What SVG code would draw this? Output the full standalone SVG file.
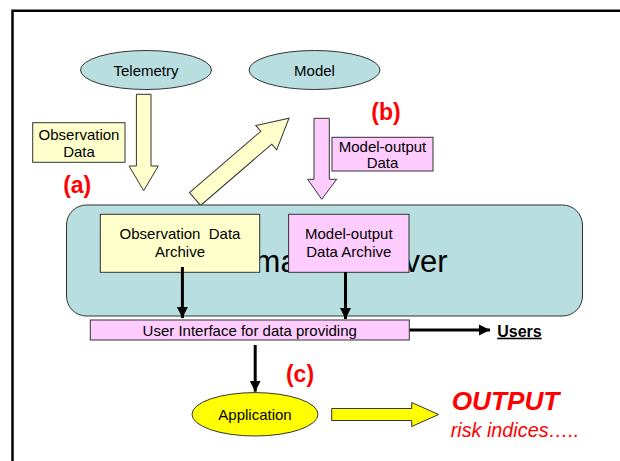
<svg xmlns="http://www.w3.org/2000/svg" width="620" height="461" viewBox="0 0 620 461">
  <defs>
    <style>
      text { font-family: "Liberation Sans", Arial, sans-serif; fill: #000; }
      .t15 { font-size: 15px; text-anchor: middle; }
      .lbl { font-size: 23px; font-weight: bold; fill: #FF0000; text-anchor: middle; }
      .teal { fill: #B8DEE0; stroke: #333; stroke-width: 1; }
      .ylw { fill: #FFFFCC; stroke: #333; stroke-width: 1; }
      .pnk { fill: #FFCCFF; stroke: #333; stroke-width: 1; }
      .bold { fill: #FFFF00; stroke: #333; stroke-width: 1; }
      .link { stroke: #000; stroke-width: 3; fill: none; }
    </style>
    <marker id="head" markerUnits="userSpaceOnUse" markerWidth="12" markerHeight="12" refX="11" refY="6" orient="auto">
      <path d="M0,0.5 L11,6 L0,11.5 Z" fill="#000"/>
    </marker>
  </defs>

  <rect width="620" height="461" fill="#fff"/>
  <!-- slide frame -->
  <path d="M12.5,461 V10.8 H620" fill="none" stroke="#000" stroke-width="2.5"/>

  <!-- sources -->
  <g id="telemetry">
    <ellipse class="teal" cx="146" cy="70" rx="65.5" ry="19.5"/>
    <text class="t15" x="146" y="75.5">Telemetry</text>
  </g>
  <g id="model">
    <ellipse class="teal" cx="314.5" cy="70" rx="65.5" ry="19.5"/>
    <text class="t15" x="314.5" y="75.5">Model</text>
  </g>

  <!-- block arrows carrying data -->
  <g id="connectors">
    <polygon class="ylw" points="136.4,94.3 151,94.3 151,166 158.3,166 143.7,190.7 129,166 136.4,166"/>
    <polygon class="ylw" transform="translate(195,199) rotate(-40.7)" points="0,-8.5 94,-8.5 94,-16 124,0 94,16 94,8.5 0,8.5"/>
    <polygon class="pnk" points="314,118.3 329.3,118.3 329.3,179.3 336.7,179.3 321.7,199.3 307.7,179.3 314,179.3"/>
  </g>

  <g id="observation-data">
    <rect class="ylw" x="32.7" y="122.7" width="92.3" height="39.6"/>
    <text class="t15" x="79" y="140">Observation</text>
    <text class="t15" x="79" y="156.7">Data</text>
  </g>
  <g id="model-output-data">
    <rect class="pnk" x="332" y="137.3" width="101" height="33.7"/>
    <text class="t15" x="382.5" y="151.5">Model-output</text>
    <text class="t15" x="382.5" y="168">Data</text>
  </g>
  <g id="label-a"><text class="lbl" x="77.2" y="192.8">(a)</text></g>
  <g id="label-b"><text class="lbl" x="386" y="120">(b)</text></g>

  <!-- server with its two archives -->
  <g id="server">
    <rect class="teal" x="66.5" y="205" width="516" height="111" rx="20" ry="20"/>
    <text x="192.6" y="272" style="font-size:31px">Information Server</text>
  </g>
  <g id="observation-archive">
    <rect class="ylw" x="100.3" y="214.3" width="159.4" height="58"/>
    <text class="t15" x="180" y="239.3" xml:space="preserve">Observation  Data</text>
    <text class="t15" x="180" y="256.7">Archive</text>
  </g>
  <g id="model-archive">
    <rect class="pnk" x="288.6" y="214.3" width="120.4" height="58"/>
    <text class="t15" x="348.8" y="239.3">Model-output</text>
    <text class="t15" x="348.8" y="257">Data Archive</text>
  </g>

  <g id="links">
    <line class="link" x1="182.4" y1="267" x2="182.4" y2="318" marker-end="url(#head)"/>
    <line class="link" x1="345.5" y1="272" x2="345.5" y2="319" marker-end="url(#head)"/>
    <line class="link" x1="409.3" y1="330" x2="490" y2="330" marker-end="url(#head)"/>
    <line class="link" x1="255.2" y1="345" x2="255.2" y2="391.7" marker-end="url(#head)"/>
    <polygon class="bold" points="331.7,408.5 411.7,408.5 411.7,402.5 438.6,414.5 411.7,426.5 411.7,420.5 331.7,420.5"/>
  </g>

  <g id="user-interface">
    <rect class="pnk" x="90.3" y="320" width="319" height="20"/>
    <text class="t15" x="249.7" y="336">User Interface for data providing</text>
  </g>
  <g id="users">
    <text x="497.2" y="336.7" style="font-size:16px;font-weight:bold;text-decoration:underline">Users</text>
  </g>
  <g id="label-c"><text class="lbl" x="300" y="381.8">(c)</text></g>

  <g id="application">
    <ellipse class="bold" cx="255" cy="414.3" rx="63" ry="21.7"/>
    <text class="t15" x="255" y="419.5">Application</text>
  </g>

  <g id="output">
    <text x="451.7" y="409.5" style="font-size:26.2px;font-weight:bold;font-style:italic;fill:#FF0000">OUTPUT</text>
    <text x="450.7" y="436.5" style="font-size:19.8px;font-style:italic;fill:#FF0000">risk indices…..</text>
  </g>
</svg>
